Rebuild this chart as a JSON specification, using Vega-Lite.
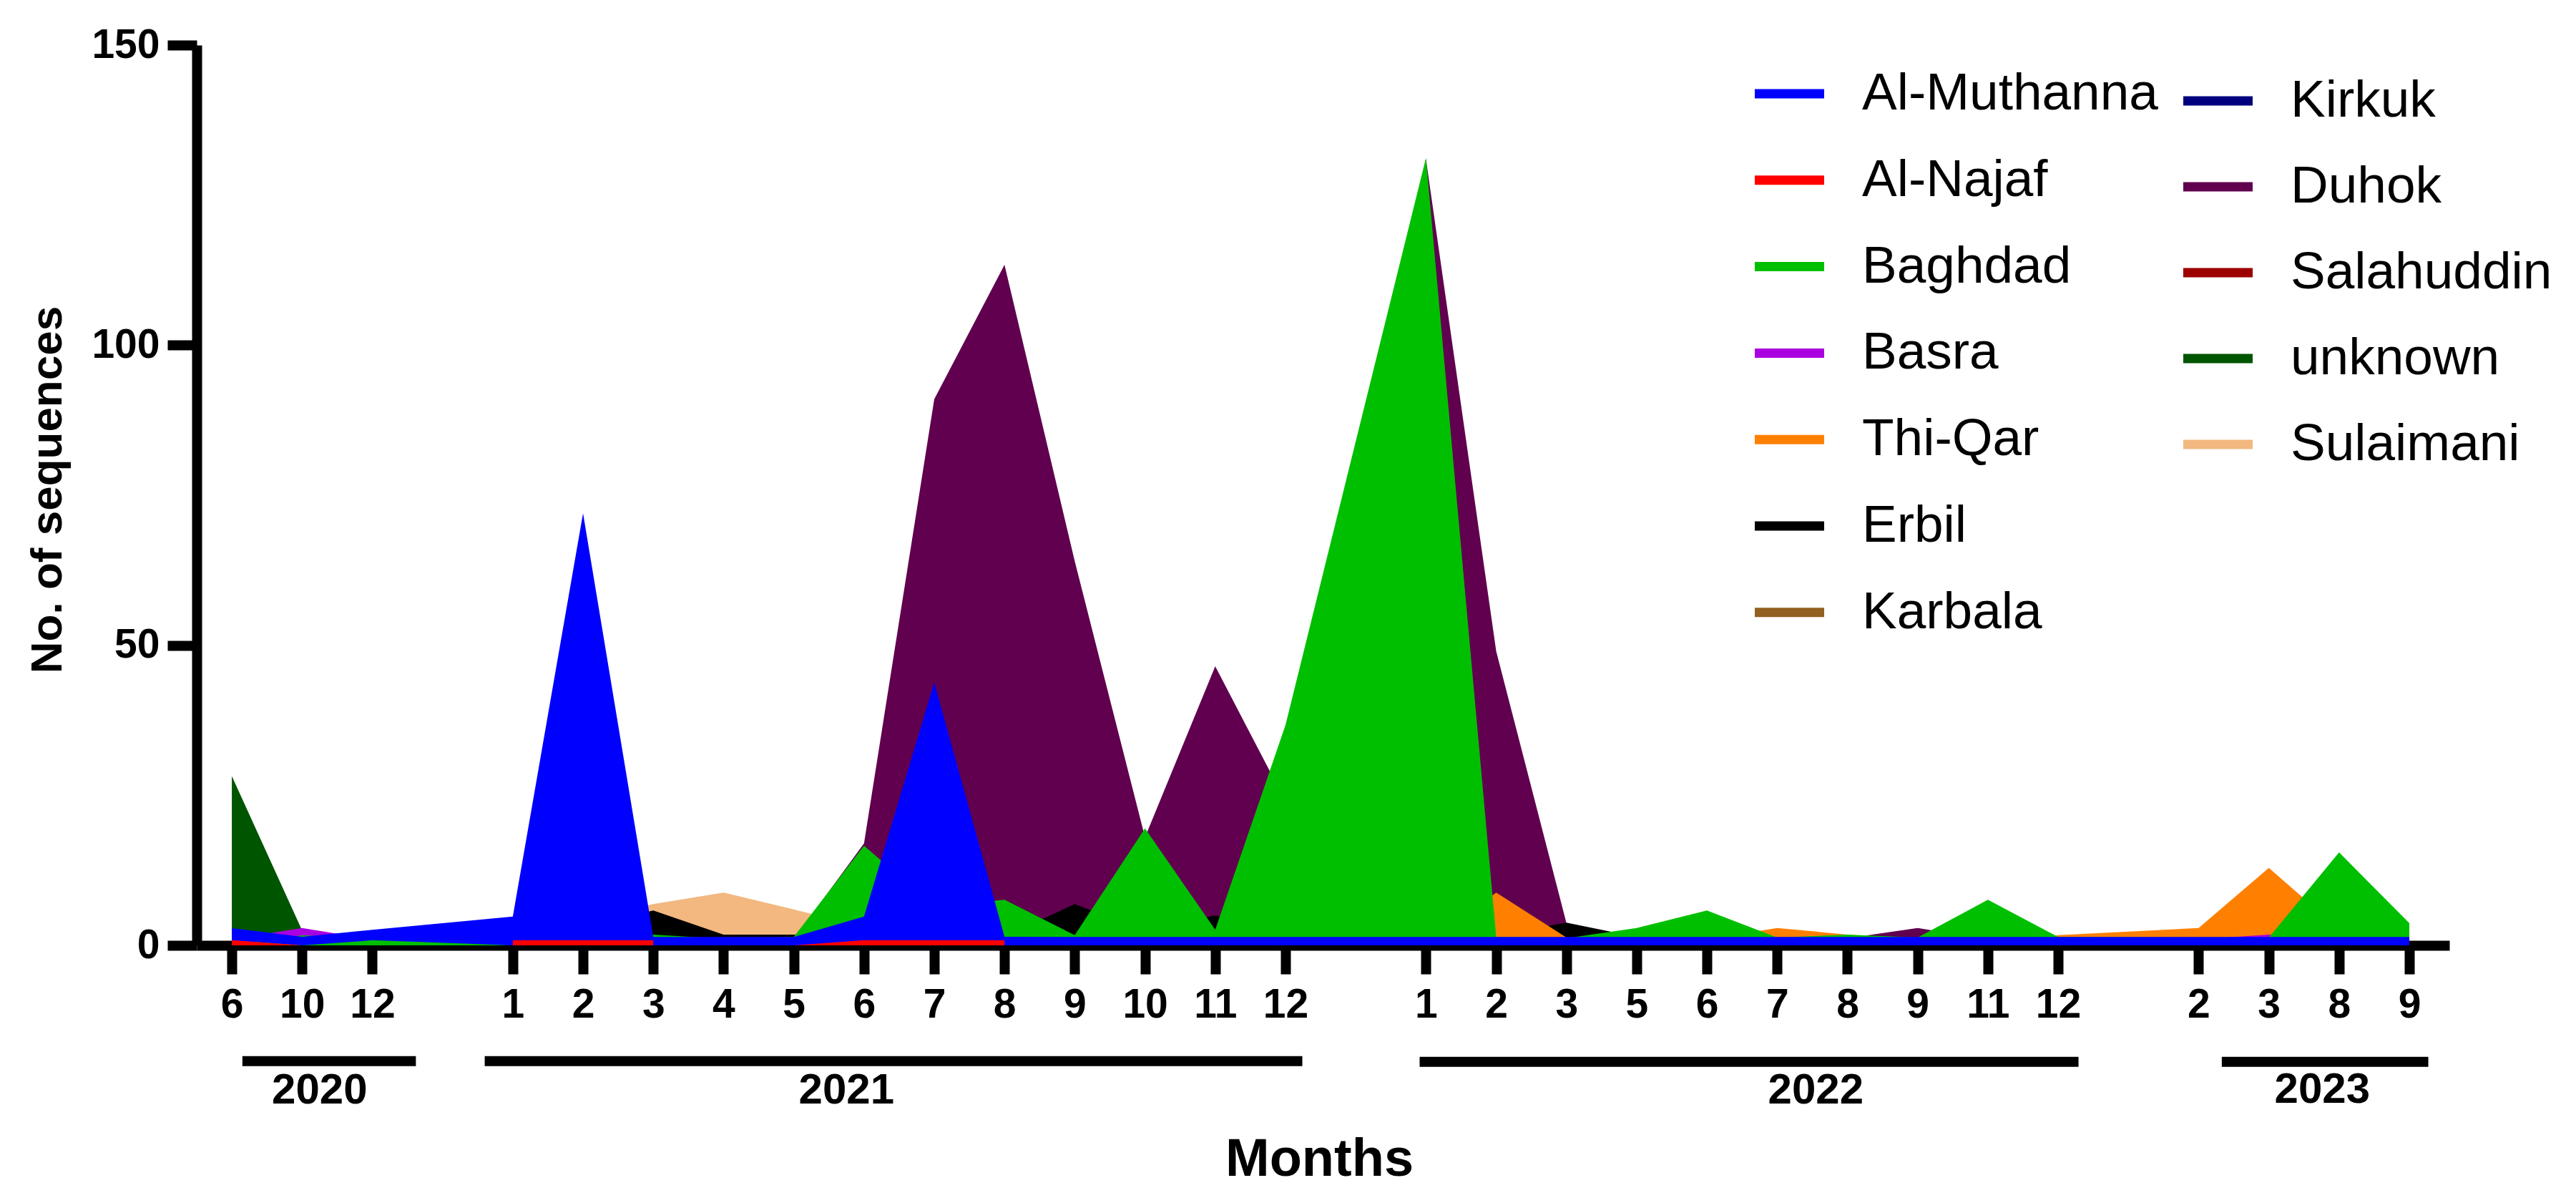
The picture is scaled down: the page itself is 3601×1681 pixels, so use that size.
{"$schema":"https://vega.github.io/schema/vega-lite/v6.json","width":3149,"height":1258,"autosize":{"type":"none"},"padding":{"left":275,"top":63,"right":177,"bottom":360},"background":"white","config":{"view":{"stroke":null},"legend":{"title":null,"orient":"none","symbolType":"M-1,-0.134H1V0.134H-1Z","symbolSize":9409,"labelFont":"Liberation Sans","labelFontSize":73,"labelColor":"black","labelLimit":800,"padding":0,"symbolStrokeWidth":0}},"data":{"values":[
{"idx":4,"region":"Sulaimani","count":0},{"idx":5,"region":"Sulaimani","count":4},{"idx":6,"region":"Sulaimani","count":6.9},{"idx":7,"region":"Sulaimani","count":8.8},{"idx":8,"region":"Sulaimani","count":6},{"idx":9,"region":"Sulaimani","count":3},{"idx":10,"region":"Sulaimani","count":0},
{"idx":0,"region":"unknown","count":28.2},{"idx":1,"region":"unknown","count":2.5},{"idx":2,"region":"unknown","count":0},
{"idx":0,"region":"Salahuddin","count":0},{"idx":31,"region":"Salahuddin","count":0},
{"idx":8,"region":"Duhok","count":1},{"idx":9,"region":"Duhok","count":17},{"idx":10,"region":"Duhok","count":91},{"idx":11,"region":"Duhok","count":113.4},{"idx":12,"region":"Duhok","count":64},{"idx":13,"region":"Duhok","count":18},{"idx":14,"region":"Duhok","count":46.5},{"idx":15,"region":"Duhok","count":24},{"idx":17,"region":"Duhok","count":131},{"idx":18,"region":"Duhok","count":49},{"idx":19,"region":"Duhok","count":3.7},{"idx":20,"region":"Duhok","count":1},{"idx":21,"region":"Duhok","count":1},{"idx":22,"region":"Duhok","count":1},{"idx":23,"region":"Duhok","count":1.2},{"idx":24,"region":"Duhok","count":2.9},{"idx":25,"region":"Duhok","count":1},
{"idx":0,"region":"Kirkuk","count":0},{"idx":31,"region":"Kirkuk","count":0},
{"idx":0,"region":"Karbala","count":0},{"idx":31,"region":"Karbala","count":0},
{"idx":4,"region":"Erbil","count":1},{"idx":5,"region":"Erbil","count":3},{"idx":6,"region":"Erbil","count":5.8},{"idx":7,"region":"Erbil","count":1.8},{"idx":8,"region":"Erbil","count":1.8},{"idx":9,"region":"Erbil","count":1},{"idx":10,"region":"Erbil","count":1},{"idx":11,"region":"Erbil","count":1.4},{"idx":12,"region":"Erbil","count":6.9},{"idx":13,"region":"Erbil","count":2.3},{"idx":14,"region":"Erbil","count":5},{"idx":15,"region":"Erbil","count":1},{"idx":17,"region":"Erbil","count":1},{"idx":18,"region":"Erbil","count":1.7},{"idx":19,"region":"Erbil","count":3.8},{"idx":20,"region":"Erbil","count":1.4},{"idx":21,"region":"Erbil","count":1},
{"idx":17,"region":"Thi-Qar","count":0},{"idx":18,"region":"Thi-Qar","count":8.8},{"idx":19,"region":"Thi-Qar","count":1.3},{"idx":20,"region":"Thi-Qar","count":1},{"idx":21,"region":"Thi-Qar","count":1},{"idx":22,"region":"Thi-Qar","count":2.9},{"idx":23,"region":"Thi-Qar","count":1.8},{"idx":24,"region":"Thi-Qar","count":1},{"idx":25,"region":"Thi-Qar","count":1},{"idx":26,"region":"Thi-Qar","count":1.7},{"idx":28,"region":"Thi-Qar","count":2.9},{"idx":29,"region":"Thi-Qar","count":12.9},{"idx":30,"region":"Thi-Qar","count":2.7},{"idx":31,"region":"Thi-Qar","count":1},
{"idx":0,"region":"Basra","count":1},{"idx":1,"region":"Basra","count":2.9},{"idx":2,"region":"Basra","count":1},{"idx":4,"region":"Basra","count":0},{"idx":26,"region":"Basra","count":0},{"idx":28,"region":"Basra","count":1},{"idx":29,"region":"Basra","count":1.8},{"idx":30,"region":"Basra","count":1},
{"idx":0,"region":"Baghdad","count":0},{"idx":1,"region":"Baghdad","count":1.66},{"idx":2,"region":"Baghdad","count":1.24},{"idx":4,"region":"Baghdad","count":0},{"idx":5,"region":"Baghdad","count":0},{"idx":6,"region":"Baghdad","count":1.8},{"idx":7,"region":"Baghdad","count":1.1},{"idx":8,"region":"Baghdad","count":1.4},{"idx":9,"region":"Baghdad","count":16.6},{"idx":10,"region":"Baghdad","count":6.5},{"idx":11,"region":"Baghdad","count":7.6},{"idx":12,"region":"Baghdad","count":1.7},{"idx":13,"region":"Baghdad","count":19.5},{"idx":14,"region":"Baghdad","count":2.6},{"idx":15,"region":"Baghdad","count":36.7},{"idx":17,"region":"Baghdad","count":131.2},{"idx":18,"region":"Baghdad","count":1.4},{"idx":19,"region":"Baghdad","count":1.2},{"idx":20,"region":"Baghdad","count":2.9},{"idx":21,"region":"Baghdad","count":5.8},{"idx":22,"region":"Baghdad","count":1.3},{"idx":23,"region":"Baghdad","count":1.8},{"idx":24,"region":"Baghdad","count":1.3},{"idx":25,"region":"Baghdad","count":7.6},{"idx":26,"region":"Baghdad","count":1.4},{"idx":28,"region":"Baghdad","count":1.3},{"idx":29,"region":"Baghdad","count":1.3},{"idx":30,"region":"Baghdad","count":15.5},{"idx":31,"region":"Baghdad","count":3.7},
{"idx":0,"region":"Al-Muthanna","count":2.86,"low":0.85},{"idx":1,"region":"Al-Muthanna","count":1.43,"low":0},{"idx":2,"region":"Al-Muthanna","count":2.6,"low":0.85},{"idx":4,"region":"Al-Muthanna","count":4.8,"low":0},{"idx":5,"region":"Al-Muthanna","count":72,"low":0},{"idx":6,"region":"Al-Muthanna","count":1.4,"low":0},{"idx":7,"region":"Al-Muthanna","count":1.4,"low":0},{"idx":8,"region":"Al-Muthanna","count":1.4,"low":0},{"idx":9,"region":"Al-Muthanna","count":4.8,"low":0},{"idx":10,"region":"Al-Muthanna","count":43.8,"low":0},{"idx":11,"region":"Al-Muthanna","count":1.43,"low":0},{"idx":12,"region":"Al-Muthanna","count":1.4,"low":0},{"idx":13,"region":"Al-Muthanna","count":1.4,"low":0},{"idx":14,"region":"Al-Muthanna","count":1.4,"low":0},{"idx":15,"region":"Al-Muthanna","count":1.4,"low":0},{"idx":17,"region":"Al-Muthanna","count":1.4,"low":0},{"idx":18,"region":"Al-Muthanna","count":1.4,"low":0},{"idx":19,"region":"Al-Muthanna","count":1.4,"low":0},{"idx":20,"region":"Al-Muthanna","count":1.4,"low":0},{"idx":21,"region":"Al-Muthanna","count":1.4,"low":0},{"idx":22,"region":"Al-Muthanna","count":1.4,"low":0},{"idx":23,"region":"Al-Muthanna","count":1.4,"low":0},{"idx":24,"region":"Al-Muthanna","count":1.4,"low":0},{"idx":25,"region":"Al-Muthanna","count":1.4,"low":0},{"idx":26,"region":"Al-Muthanna","count":1.4,"low":0},{"idx":28,"region":"Al-Muthanna","count":1.4,"low":0},{"idx":29,"region":"Al-Muthanna","count":1.4,"low":0},{"idx":30,"region":"Al-Muthanna","count":1.4,"low":0},{"idx":31,"region":"Al-Muthanna","count":1.4,"low":0},
{"idx":0,"region":"Al-Najaf","count":0.85},{"idx":1,"region":"Al-Najaf","count":0},{"idx":2,"region":"Al-Najaf","count":null},{"idx":4,"region":"Al-Najaf","count":0.85},{"idx":5,"region":"Al-Najaf","count":0.85},{"idx":6,"region":"Al-Najaf","count":0.85},{"idx":7,"region":"Al-Najaf","count":null},{"idx":8,"region":"Al-Najaf","count":0},{"idx":9,"region":"Al-Najaf","count":0.85},{"idx":10,"region":"Al-Najaf","count":0.85},{"idx":11,"region":"Al-Najaf","count":0.85},{"idx":12,"region":"Al-Najaf","count":null}
]},
"encoding":{"x":{"field":"idx","type":"quantitative","scale":{"domain":[-0.5,31.57],"nice":false,"zero":false},"axis":{"title":"Months","values":[0,1,2,4,5,6,7,8,9,10,11,12,13,14,15,17,18,19,20,21,22,23,24,25,26,28,29,30,31],"labelExpr":"['6','10','12','','1','2','3','4','5','6','7','8','9','10','11','12','','1','2','3','5','6','7','8','9','11','12','','2','3','8','9'][datum.value]","grid":false,"domainColor":"black","domainWidth":14,"tickColor":"black","tickWidth":14,"tickSize":40,"labelFont":"Liberation Sans","labelFontWeight":"bold","labelFontSize":57,"labelColor":"black","labelPadding":15,"labelAngle":0,"labelFlush":false,"labelOverlap":false,"titleFont":"Liberation Sans","titleFontWeight":"bold","titleFontSize":74,"titleColor":"black","titleX":1569,"titleY":321,"titleBaseline":"alphabetic"}},"y":{"field":"count","type":"quantitative","stack":null,"scale":{"domain":[0,150],"nice":false},"axis":{"title":"No. of sequences","values":[0,50,100,150],"grid":false,"domainColor":"black","domainWidth":14,"tickColor":"black","tickWidth":14,"tickSize":41,"labelFont":"Liberation Sans","labelFontWeight":"bold","labelFontSize":57,"labelColor":"black","labelPadding":11,"titleFont":"Liberation Sans","titleFontWeight":"bold","titleFontSize":62,"titleColor":"black","titleX":-177,"titleY":621,"titleAngle":-90,"titleAlign":"center"}}},
"layer":[
{"transform":[{"filter":"indexof(['Sulaimani','unknown','Salahuddin','Duhok','Kirkuk'],datum.region)>=0"}],"mark":{"type":"area","opacity":1,"clip":false},"encoding":{
"fill":{"field":"region","type":"nominal","scale":{"domain":["Kirkuk","Duhok","Salahuddin","unknown","Sulaimani"],"range":["#00007f","#60004f","#9c0000","#005500","#f2b880"]},"legend":{"legendX":2777,"legendY":29.5,"rowPadding":34,"labelOffset":53}}}},
{"transform":[{"filter":"indexof(['Karbala','Erbil','Thi-Qar','Basra','Baghdad'],datum.region)>=0"}],"mark":{"type":"area","opacity":1,"clip":false},"encoding":{"color":{"field":"region","type":"nominal","scale":{"domain":["Al-Muthanna","Al-Najaf","Baghdad","Basra","Thi-Qar","Erbil","Karbala"],"range":["#0000ff","#ff0000","#00bf00","#aa00e0","#ff8000","#000000","#926020"]},"legend":{"legendX":2178,"legendY":19.5,"rowPadding":34.8,"labelOffset":53}}}},
{"transform":[{"filter":"datum.region==='Al-Muthanna'"}],"mark":{"type":"area","opacity":1,"clip":false},"encoding":{"y2":{"field":"low"},"color":{"field":"region","type":"nominal","legend":null}}},
{"transform":[{"filter":"datum.region==='Al-Najaf'"}],"mark":{"type":"area","opacity":1,"clip":false},"encoding":{"color":{"field":"region","type":"nominal","legend":null}}},
{"data":{"values":[{"year":"2020","idx":0.15,"end":2.62,"count":-19.3},{"year":"2021","idx":3.6,"end":15.24,"count":-19.3},{"year":"2022","idx":16.91,"end":26.29,"count":-19.4},{"year":"2023","idx":28.33,"end":31.27,"count":-19.4}]},"mark":{"type":"rule","strokeWidth":14,"color":"black","clip":false},"encoding":{"x2":{"field":"end"}}},
{"data":{"values":[{"year":"2020","idx":1.25,"count":-24.2},{"year":"2021","idx":8.75,"count":-24.2},{"year":"2022","idx":22.55,"count":-24.2},{"year":"2023","idx":29.76,"count":-24.1}]},"mark":{"type":"text","font":"Liberation Sans","fontWeight":"bold","fontSize":60,"color":"black","baseline":"middle","align":"center","clip":false},"encoding":{"text":{"field":"year","type":"nominal"}}}
]}
